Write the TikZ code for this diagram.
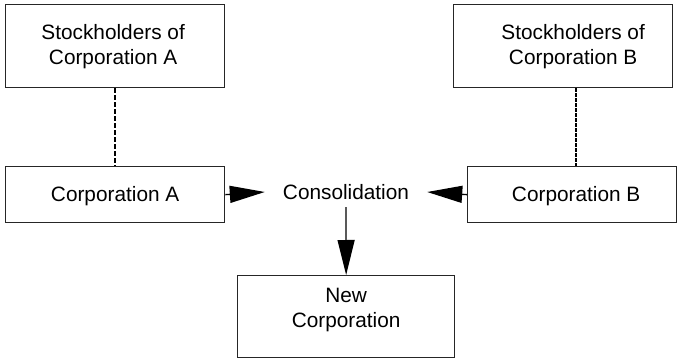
\documentclass[tikz,border=0pt]{standalone}
\usepackage{fontspec}
\setmainfont{Liberation Sans}
\usetikzlibrary{arrows.meta,calc}

\tikzset{
  box/.style={draw=black!85, line width=1.3pt, inner sep=0pt, anchor=north west},
  lbl/.style={font=\fontsize{20.8}{25}\selectfont, align=center, inner sep=0pt},
  flow/.style={line width=1.3pt, -{Triangle[length=35pt,width=17pt]}},
  link/.style={line width=1.5pt, dash pattern=on 4.5pt off 2.5pt}
}

\begin{document}
\begin{tikzpicture}[x=1pt, y=-1pt]
  \useasboundingbox (0,0) rectangle (679,358);

  % boxes
  \node[box, minimum width=219pt, minimum height=83pt] (sa) at (5,4) {};
  \node[box, minimum width=219pt, minimum height=83pt] (sb) at (453,4) {};
  \node[box, minimum width=219pt, minimum height=56pt] (ca) at (5,166) {};
  \node[box, minimum width=209pt, minimum height=56pt] (cb) at (467,166) {};
  \node[box, minimum width=217pt, minimum height=82pt] (nc) at (237,275) {};

  % box texts
  \node[lbl] at ($(sa.center)+(-2,0)$) {Stockholders of\\Corporation A};
  \node[lbl] at ($(sb.center)+(10,0)$) {Stockholders of\\Corporation B};
  \node[lbl] at ($(ca.center)+(0,1)$) {Corporation A};
  \node[lbl] at ($(cb.center)+(4,1)$) {Corporation B};
  \node[lbl] at ($(nc.center)+(0,-7)$) {New\\Corporation};

  % consolidation label
  \node[lbl, minimum width=162pt, minimum height=30pt] (con) at (346,192) {Consolidation};

  % ownership links
  \draw[link] (sa.south) -- (ca.north -| sa.south);
  \draw[link, dash pattern=on 3.5pt off 1.5pt] ($(sb.south)+(13,0)$) -- ($(cb.north -| sb.south)+(13,0)$);

  % flows
  \draw[flow] (ca.east) -- (con.west);
  \draw[flow] (cb.west) -- (con.east);
  \draw[flow] (con.south) -- (nc.north);
\end{tikzpicture}
\end{document}
